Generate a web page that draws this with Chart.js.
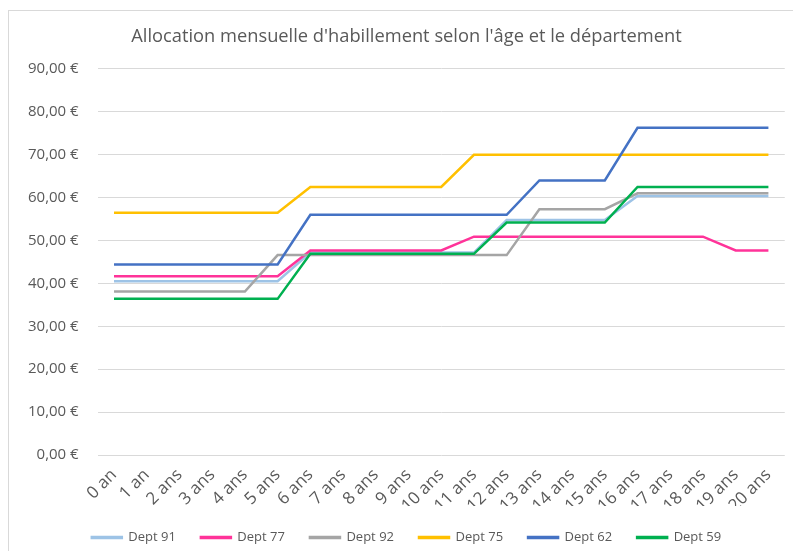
<!DOCTYPE html>
<html lang="fr">
<head>
<meta charset="utf-8">
<title>Allocation mensuelle d'habillement</title>
<script src="https://cdn.jsdelivr.net/npm/chart.js@4.4.1/dist/chart.umd.min.js"></script>
<style>
  html, body { margin: 0; padding: 0; background: #fff; }
  #cadre { position: absolute; left: 8px; top: 10px; width: 820px; height: 600px; border: 1px solid #d9d9d9; }
  #zone { position: absolute; left: 0; top: 0; width: 793px; height: 551px; }
</style>
</head>
<body>
<div id="cadre"></div>
<div id="zone"><canvas id="graphique"></canvas></div>
<script>
// libellés de l'axe des x
const ages = ["0 an", "1 an", "2 ans", "3 ans", "4 ans", "5 ans", "6 ans", "7 ans", "8 ans", "9 ans", "10 ans",
  "11 ans", "12 ans", "13 ans", "14 ans", "15 ans", "16 ans", "17 ans", "18 ans", "19 ans", "20 ans"];

// montants (en euros)
const dept91 = [40.5, 40.5, 40.5, 40.5, 40.5, 40.5, 47.2, 47.2, 47.2, 47.2, 47.2, 47.2, 54.8, 54.8, 54.8, 54.8, 60.4, 60.4, 60.4, 60.4, 60.4];
const dept77 = [41.7, 41.7, 41.7, 41.7, 41.7, 41.7, 47.7, 47.7, 47.7, 47.7, 47.7, 50.9, 50.9, 50.9, 50.9, 50.9, 50.9, 50.9, 50.9, 47.7, 47.7];
const dept92 = [38.1, 38.1, 38.1, 38.1, 38.1, 46.6, 46.6, 46.6, 46.6, 46.6, 46.6, 46.6, 46.6, 57.3, 57.3, 57.3, 61.0, 61.0, 61.0, 61.0, 61.0];
const dept75 = [56.5, 56.5, 56.5, 56.5, 56.5, 56.5, 62.5, 62.5, 62.5, 62.5, 62.5, 70, 70, 70, 70, 70, 70, 70, 70, 70, 70];
const dept62 = [44.4, 44.4, 44.4, 44.4, 44.4, 44.4, 56, 56, 56, 56, 56, 56, 56, 64, 64, 64, 76.3, 76.3, 76.3, 76.3, 76.3];
const dept59 = [36.4, 36.4, 36.4, 36.4, 36.4, 36.4, 46.9, 46.9, 46.9, 46.9, 46.9, 46.9, 54.2, 54.2, 54.2, 54.2, 62.5, 62.5, 62.5, 62.5, 62.5];

const series = [
  { nom: "Dept 91", valeurs: dept91, couleur: "#9dc3e6" },
  { nom: "Dept 77", valeurs: dept77, couleur: "#ff3399" },
  { nom: "Dept 92", valeurs: dept92, couleur: "#a5a5a5" },
  { nom: "Dept 75", valeurs: dept75, couleur: "#ffc000" },
  { nom: "Dept 62", valeurs: dept62, couleur: "#4472c4" },
  { nom: "Dept 59", valeurs: dept59, couleur: "#00b050" }
];

const texteGris = "#595959";
const police = "'Open Sans', 'Liberation Sans', sans-serif";

// comme dans Excel, la dernière série est dessinée par-dessus
const datasets = series.map((s, i) => ({
  label: s.nom,
  data: s.valeurs,
  borderColor: s.couleur,
  backgroundColor: s.couleur,
  borderWidth: 2.5,
  pointRadius: 0,
  tension: 0,
  order: series.length - i
}));

const ctx = document.getElementById("graphique").getContext("2d");
const graphique = new Chart(ctx, {
  type: "line",
  data: { labels: ages, datasets: datasets },
  options: {
    responsive: true,
    maintainAspectRatio: false,
    animation: false,
    layout: { padding: { left: 27, right: 7, top: 0, bottom: -3 } },
    plugins: {
      title: {
        display: true,
        text: "Allocation mensuelle d'habillement selon l'âge et le département",
        color: texteGris,
        font: { family: police, size: 18.3, weight: "normal" },
        padding: { top: 26, bottom: 21 }
      },
      legend: {
        position: "bottom",
        labels: {
          color: texteGris,
          font: { family: police, size: 13 },
          boxWidth: 30,
          boxHeight: 1,
          padding: 25,
          sort: (a, b) => a.datasetIndex - b.datasetIndex
        }
      },
      tooltip: { enabled: false }
    },
    scales: {
      x: {
        offset: true,
        grid: { display: false, drawTicks: false },
        border: { display: false },
        ticks: {
          color: texteGris,
          font: { family: police, size: 17 },
          padding: 10,
          minRotation: 45,
          maxRotation: 45,
          autoSkip: false
        },
        // les libellés inclinés débordent sous l'axe comme dans Excel
        afterFit: (scale) => {
          scale.height = 51;
        }
      },
      y: {
        min: 0,
        max: 90,
        grid: { color: "#d9d9d9", drawTicks: false },
        border: { display: false },
        ticks: {
          stepSize: 10,
          padding: 19,
          color: texteGris,
          font: { family: police, size: 15 },
          callback: (v) => v.toFixed(2).replace(".", ",") + " €"
        },
        // axe plus étroit pour que titre et légende restent centrés comme dans l'original
        afterFit: (scale) => {
          scale.width = scale.width - 18;
        }
      }
    }
  }
});
</script>
</body>
</html>
